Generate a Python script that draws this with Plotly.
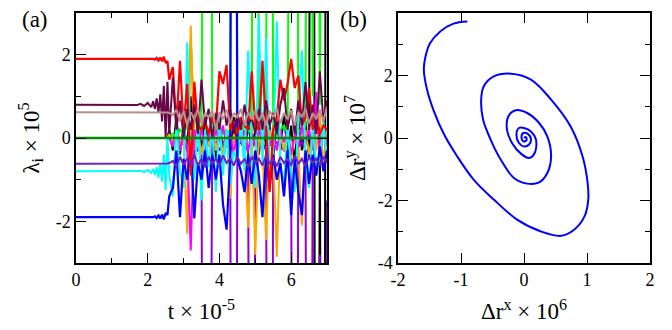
import plotly.graph_objects as go
from plotly.subplots import make_subplots

# ---------------- panel (a) data ----------------
T_early = [0.0, 1.0, 1.6, 1.7, 1.8, 1.9, 2.0, 2.1, 2.15, 2.2, 2.25, 2.3, 2.35, 2.4, 2.45, 2.5, 2.55]
T_late = [2.6, 2.7, 2.8, 2.9, 3.0, 3.1, 3.2, 3.3, 3.4, 3.5,
          3.6, 3.7, 3.8, 3.9, 4.0, 4.1, 4.2, 4.3, 4.4, 4.5,
          4.6, 4.7, 4.8, 4.9, 5.0, 5.1, 5.2, 5.3, 5.4, 5.5,
          5.6, 5.7, 5.8, 5.9, 6.0, 6.1, 6.2, 6.3, 6.4, 6.5,
          6.6, 6.7, 6.8, 6.9, 7.0]

zero_early = [0.0, 0.0, 0.0, 0.0, 0.0, 0.0, 0.0, 0.0, 0.0, 0.0, 0.0, 0.0, 0.0, 0.0, 0.0, 0.0, 0.0]

red_early = [1.9, 1.9, 1.9, 1.9, 1.9, 1.9, 1.9, 1.89, 1.9, 1.88, 1.92, 1.86, 1.93, 1.84, 1.95, 1.8, 1.85]
red_late = [1.4, 1.7, 0.3, 1.85, 0.2, 1.3, -0.9, 1.35, 0.3, 0.2,
            0.4, 0.1, 0.5, 0.2, 1.6, 1.3, 1.75, 0.2, 0.4, 0.1,
            0.5, 0.3, 0.2, 1.6, 0.3, 0.2, 1.85, 0.1, -1.3, 0.2,
            0.5, 1.4, 0.9, 1.3, 1.9, 1.2, 1.5, 0.3, 0.5, 1.2,
            0.2, 0.4, 0.1, 0.3, 0.2]

blue_early = [-1.9, -1.9, -1.9, -1.9, -1.9, -1.9, -1.9, -1.89, -1.9, -1.88, -1.92, -1.86, -1.93, -1.84, -1.95, -1.8, -1.85]
blue_late = [-1.4, -1.2, -0.3, -1.9, -0.5, -1.0, -0.2, -1.93, -0.6, -1.0,
             -0.3, -1.2, -0.4, -1.0, -0.4, -1.6, -2.2, -0.5, 30, -0.5,
             -0.8, -1.3, -0.4, -1.1, -0.3, -0.9, -1.9, -0.4, -1.2, -0.4,
             -1.0, -0.6, -1.4, -0.3, -1.85, -0.5, -1.3, -1.85, -0.3, -1.1,
             -0.4, -0.9, -0.2, -0.8, -0.3]

cyan_early = [-0.8, -0.8, -0.8, -0.8, -0.79, -0.82, -0.77, -0.84, -0.74, -0.88, -0.7, -0.95, -0.6, -1.05, -0.4, -1.25, 0.05]
cyan_late = [-0.9, -1.4, 0.3, -0.8, -1.2, 2.3, -0.5, -1.0, 0.4, -1.5,
             0.2, -0.7, 0.3, -1.3, 0.5, -0.9, 0.2, -1.1, -0.3, -0.6,
             0.4, -0.8, 2.1, -0.5, -1.2, 2.9, -0.6, 2.4, -0.9, -0.4,
             2.8, -0.7, -1.1, 0.3, -0.8, -1.3, 0.4, 2.1, -0.6, -1.2,
             0.3, -0.7, -0.5, 0.4, -0.6]

maroon_early = [0.8, 0.8, 0.8, 0.79, 0.82, 0.77, 0.84, 0.74, 0.88, 0.7, 0.95, 0.6, 1.05, 0.4, 1.25, 0.0, 1.35]
maroon_late = [0.1, 1.45, 0.2, 0.9, 0.0, 0.7, 0.2, 0.8, 0.1, 1.4,
               0.3, 0.7, 0.0, 0.6, 0.2, 0.9, 0.3, 0.7, 0.1, 0.6,
               0.2, 0.8, 0.3, 0.5, 0.1, 0.7, 0.2, 0.9, 0.3, 0.6,
               0.1, 0.8, 1.2, 0.2, 0.7, 0.1, 0.9, 0.3, 1.35, 0.2,
               0.8, 0.1, 1.6, 0.4, 0.9]

brown_early = [0.62, 0.62, 0.62, 0.62, 0.62, 0.62, 0.62, 0.62, 0.62, 0.62, 0.62, 0.62, 0.62, 0.62, 0.62, 0.62, 0.61]
brown_late = [0.6, 0.55, 0.68, 0.4, 0.65, 0.3, 0.62, 0.45, 0.7, 0.35,
              0.6, 0.5, 0.66, 0.2, 0.62, 0.45, 0.68, 0.35, 0.6, 0.5,
              0.7, 0.3, 0.62, 0.45, 0.66, 0.4, 0.6, 0.3, 0.65, 0.5,
              0.7, 0.35, 0.6, 0.45, 0.66, 0.3, 0.62, 0.5, 0.7, 0.35,
              0.6, 0.45, 0.68, 0.4, 0.75]

indigo_early = [-0.62, -0.62, -0.62, -0.62, -0.62, -0.62, -0.62, -0.62, -0.62, -0.62, -0.62, -0.62, -0.62, -0.62, -0.62, -0.62, -0.61]
indigo_late = [-0.6, -0.55, -0.68, -0.45, -0.65, -0.5, -0.62, -0.4, -0.66, -0.5,
               -0.7, -0.45, -0.62, -0.5, -0.68, -0.42, -0.6, -0.5, -0.66, -0.45,
               -0.62, -0.5, -0.7, -0.45, -0.6, -0.5, -0.66, -0.42, -0.62, -0.5,
               -0.68, -0.45, -0.6, -0.5, -0.66, -0.42, -0.62, -0.5, -0.68, -0.45,
               -0.6, -0.5, -0.66, -0.45, -0.6]

green_late = [0.0, 0.1, 0.0, 0.2, 0.1, 0.3, 2.4, 0.2, 0.1, 0.3,
              30, 30, 0.2, 0.1, 0.3, 0.1, 0.2, 0.1, 30, 0.2,
              0.1, 0.3, 0.2, 0.1, 30, 0.2, 0.1, 0.3, 30, 0.2,
              0.1, 0.2, 0.3, 0.1, 30, 30, 0.2, 0.1, 0.3, 30,
              1.0, 30, 0.8, 30, 30]

violet_late = [0.0, -0.1, 0.0, -0.2, -0.1, -0.3, -0.2, -0.1, -0.3, -0.2,
               -30, -30, -0.2, -0.1, -0.3, -0.1, -0.2, -0.1, -30, -0.2,
               -0.1, -0.3, -0.2, -30, -0.4, -0.2, -0.1, -0.3, -30, -0.2,
               -0.1, -0.2, -0.3, -0.1, -0.4, -30, -0.2, -0.1, -0.3, -30,
               -0.5, -30, -2.8, -30, -1.5]

magenta_late = [0.0, -0.2, 0.1, -0.3, 0.1, -0.2, -2.7, 0.2, -0.1, 0.2,
                -0.3, 0.1, -0.2, 0.2, -0.1, 0.3, -0.2, 0.1, -0.4, 0.2,
                -0.1, 0.2, -0.3, 0.1, -0.2, 0.2, -0.1, 0.3, -0.2, 0.1,
                -0.3, 0.2, -0.1, 0.2, -0.4, 0.1, -0.2, 0.3, -0.1, 0.2,
                -0.3, 1.1, -0.5, 0.3, -0.2]

orange_late = [0.1, -0.2, 0.2, -0.3, 0.1, -2.3, 2.7, -0.3, 0.2, -0.4,
               0.1, -0.2, 0.3, -0.3, 0.1, -0.4, 0.2, -1.45, 0.1, -0.3,
               0.2, -0.4, -2.15, 0.2, -2.8, 0.1, -0.3, -2.45, 0.2, -0.4,
               -2.85, 0.1, -0.3, 0.2, -0.5, 0.1, -0.3, -2.1, 0.2, -0.4,
               0.1, -0.3, 0.6, -0.65, 0.2]

black_late = [0.2, -0.3, 0.5, -0.4, 0.3, -0.2, 1.0, -0.5, 0.4, -0.3,
              0.5, -0.2, 0.3, -0.5, 0.4, -0.3, 0.2, -0.4, 0.5, -0.2,
              0.3, -0.5, 0.4, -0.3, 0.2, -0.4, 0.5, -0.2, 0.3, -0.5,
              0.4, -0.3, 0.6, -0.4, 0.3, -0.6, 0.5, -0.3, 0.4, -0.5,
              30, -30, 0.3, -30, 30]

zero_t = [0.0, 7.0]
zero_y = [0.0, 0.0]

# ---------------- panel (b) data ----------------
drx = [-0.90, -1.12, -1.33, -1.49, -1.55, -1.59, -1.54, -1.44, -1.28, -1.06,
       -0.80, -0.48, -0.11, 0.27, 0.59, 0.80, 0.96, 1.02, 1.01, 0.93,
       0.74, 0.43, 0.11, -0.21, -0.48, -0.64, -0.68, -0.65, -0.53, -0.37,
       -0.16, 0.05, 0.24, 0.37, 0.43, 0.37, 0.24, 0.05, -0.13, -0.25,
       -0.27, -0.19, -0.05, 0.08, 0.17, 0.19, 0.11, 0.0, -0.08, -0.12,
       -0.08, 0.0, 0.08, 0.11, 0.06, -0.01, -0.04, -0.01, 0.04, 0.03, 0.0]
dry = [3.73, 3.66, 3.41, 3.04, 2.72, 2.19, 1.55, 0.91, 0.16, -0.59,
       -1.33, -1.97, -2.61, -2.99, -3.13, -2.93, -2.51, -1.97, -1.44, -0.59,
       0.37, 1.23, 1.87, 2.06, 1.97, 1.65, 1.23, 0.59, -0.05, -0.69,
       -1.28, -1.46, -1.42, -1.12, -0.59, 0.05, 0.48, 0.80, 0.89, 0.69,
       0.27, -0.16, -0.50, -0.64, -0.48, -0.05, 0.21, 0.32, 0.32, 0.11,
       -0.16, -0.27, -0.21, -0.03, 0.13, 0.16, 0.03, -0.11, -0.07, 0.03, 0.0]

xa_ticks = [0, 2, 4, 6]
xa_minor = [1, 3, 5]
ya_ticks = [-2, 0, 2]
ya_minor = [-1, 1]
xb_ticks = [-2, -1, 0, 1, 2]
yb_ticks = [-4, -2, 0, 2, 4]
yb_minor = [-3, -1, 1, 3]

T = T_early + T_late
series = [
    ("black", zero_early + black_late, "#000000", 2),
    ("green", zero_early + green_late, "#00ff00", 2),
    ("violet", zero_early + violet_late, "#9400d3", 2),
    ("orange", zero_early + orange_late, "#ffa500", 2),
    ("magenta", zero_early + magenta_late, "#ff00ff", 2),
    ("cyan", cyan_early + cyan_late, "#00ffff", 2),
    ("blue", blue_early + blue_late, "#0000ff", 2.2),
    ("red", red_early + red_late, "#ff0000", 2.2),
    ("maroon", maroon_early + maroon_late, "#670748", 2),
    ("brown", brown_early + brown_late, "#bc8f8f", 2),
    ("indigo", indigo_early + indigo_late, "#7221bc", 2),
]
for name, ys, _, _ in series:
    assert len(ys) == len(T), (name, len(ys), len(T))
assert len(drx) == len(dry)

FONT = "Liberation Serif, DejaVu Serif, serif"

fig = make_subplots(rows=1, cols=2)
for name, ys, col, w in series:
    fig.add_trace(go.Scatter(x=T, y=ys, mode="lines", name=name,
                             line=dict(color=col, width=w), showlegend=False),
                  row=1, col=1)
fig.add_trace(go.Scatter(x=zero_t, y=zero_y, mode="lines", name="zero",
                         line=dict(color="#008b00", width=2.5), showlegend=False),
              row=1, col=1)
fig.add_trace(go.Scatter(x=drx, y=dry, mode="lines", line_shape="spline",
                         line=dict(color="#0000ff", width=2), showlegend=False),
              row=1, col=2)

axis_common = dict(showline=True, linecolor="black", linewidth=1.5, mirror="ticks",
                   ticks="inside", ticklen=10, tickwidth=1.3, tickcolor="black",
                   showgrid=False, zeroline=False,
                   tickfont=dict(family=FONT, size=18, color="black"),
                   automargin=False)
minor_common = dict(ticks="inside", ticklen=5, tickwidth=1.3, tickcolor="black")
TITLE_FONT = dict(family=FONT, size=23, color="black")

# the page body adds an 8px offset; the figure is sized so that the plot
# areas land at x 76-327 / 398-650 and y 13-263 of the 672x330 window
fig.update_layout(
    width=664, height=322,
    margin=dict(l=68, r=22, t=5, b=67),
    paper_bgcolor="white", plot_bgcolor="white",
    font=dict(family=FONT, color="black"),
    xaxis=dict(domain=[0, 0.4373], range=[0, 7],
               tickvals=xa_ticks, ticktext=[str(v) for v in xa_ticks],
               minor=dict(tickvals=xa_minor, **minor_common),
               title=dict(text="t × 10<sup>-5</sup>", font=TITLE_FONT, standoff=14),
               **axis_common),
    yaxis=dict(range=[-3, 3],
               tickvals=ya_ticks, ticktext=[str(v) for v in ya_ticks],
               minor=dict(tickvals=ya_minor, **minor_common),
               title=dict(text="λ<sub>i</sub> × 10<sup>5</sup>", font=TITLE_FONT, standoff=10),
               **axis_common),
    xaxis2=dict(domain=[0.561, 1.0], range=[-2, 2],
                tickvals=xb_ticks, ticktext=[str(v) for v in xb_ticks],
                title=dict(text="Δr<sup>x</sup> × 10<sup>6</sup>", font=TITLE_FONT, standoff=14),
                **axis_common),
    yaxis2=dict(range=[-4, 4],
                tickvals=yb_ticks, ticktext=[str(v) for v in yb_ticks],
                minor=dict(tickvals=yb_minor, **minor_common),
                title=dict(text="Δr<sup>y</sup> × 10<sup>7</sup>", font=TITLE_FONT, standoff=6),
                **axis_common),
    annotations=[
        dict(text="(a)", x=0.0, y=1.0, xref="paper", yref="paper", xanchor="left", yanchor="top",
             xshift=-56, yshift=8, showarrow=False, font=dict(family=FONT, size=23, color="black")),
        dict(text="(b)", x=0.561, y=1.0, xref="paper", yref="paper", xanchor="left", yanchor="top",
             xshift=-60, yshift=8, showarrow=False, font=dict(family=FONT, size=23, color="black")),
    ],
)

fig.write_html("out.html")
